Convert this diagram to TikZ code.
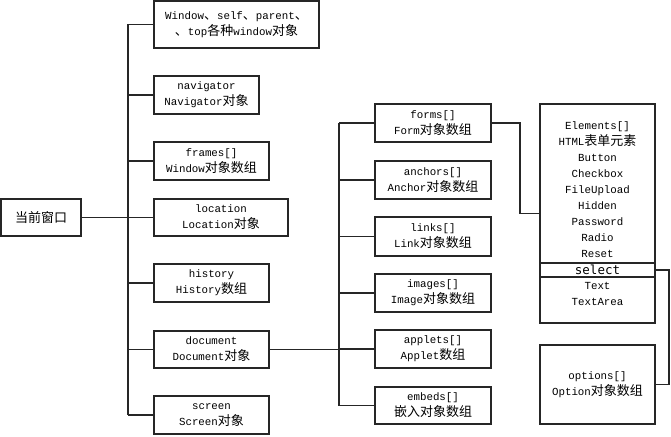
\documentclass[tikz,border=0pt]{standalone}
\usepackage{fontspec}
\setmainfont{Liberation Mono}
\newfontfamily\cjk{Noto Sans CJK SC}
\newfontfamily\selfont{DejaVu Sans Mono}
\newcommand\zh[1]{{\cjk\fontsize{13}{16}\selectfont #1}}
\begin{document}
\begin{tikzpicture}[x=1pt,y=-1pt,
  box/.style={draw=black!85, line width=1.1pt, inner sep=0pt, align=center,
    font=\fontsize{10.8}{16}\selectfont},
  link/.style={draw=black!85, line width=1.1pt}]
\useasboundingbox[fill=white] (0,0) rectangle (671,436);

% first level
\node[box, minimum width=80pt, minimum height=37pt] (cur) at (41,217.5) {\zh{当前窗口}};
\node[box, minimum width=165pt, minimum height=47pt] (w1) at (236.5,24.5)
  {Window\zh{、}self\zh{、}parent\zh{、}\\\zh{、}top\zh{各种}window\zh{对象}};
\node[box, minimum width=105pt, minimum height=38pt] (nav) at (206.5,95) {navigator\\Navigator\zh{对象}};
\node[box, minimum width=115pt, minimum height=38pt] (frames) at (211.5,161) {frames[]\\Window\zh{对象数组}};
\node[box, minimum width=134pt, minimum height=37pt] (loc) at (221,217.5) {location\\Location\zh{对象}};
\node[box, minimum width=115pt, minimum height=38pt] (hist) at (211.5,283) {history\\History\zh{数组}};
\node[box, minimum width=115pt, minimum height=37pt] (doc) at (211.5,349.5) {document\\Document\zh{对象}};
\node[box, minimum width=115pt, minimum height=38pt] (scr) at (211.5,415) {screen\\Screen\zh{对象}};

% second level
\node[box, minimum width=116pt, minimum height=38pt] (forms) at (433,123) {forms[]\\Form\zh{对象数组}};
\node[box, minimum width=116pt, minimum height=38pt] (anchors) at (433,180) {anchors[]\\Anchor\zh{对象数组}};
\node[box, minimum width=116pt, minimum height=39pt] (links) at (433,236.5) {links[]\\Link\zh{对象数组}};
\node[box, minimum width=116pt, minimum height=38pt] (images) at (433,293) {images[]\\Image\zh{对象数组}};
\node[box, minimum width=116pt, minimum height=38pt] (applets) at (433,349) {applets[]\\Applet\zh{数组}};
\node[box, minimum width=116pt, minimum height=37pt] (embeds) at (433,405.5) {embeds[]\\\zh{嵌入对象数组}};

% third level
\node[box, minimum width=115pt, minimum height=219pt] (elem) at (597.5,213.5)
  {Elements[]\\HTML\zh{表单元素}\\Button\\Checkbox\\FileUpload\\Hidden\\Password\\Radio\\Reset\\\mbox{}\\Text\\TextArea};
\node[box, minimum width=115pt, minimum height=14pt, font=\selfont\fontsize{12.5}{14}\selectfont] (sel) at (597.5,270) {select};
\node[box, minimum width=115pt, minimum height=79pt] (opt) at (597.5,384.5) {options[]\\Option\zh{对象数组}};

% trunk 1
\coordinate (ta) at (128,24.5);
\coordinate (tb) at (128,415);
\draw[link] (ta) -- (tb);
\draw[link] (cur.east) -- (cur.east -| ta);
\foreach \n in {w1,nav,frames,loc,hist,doc,scr}
  \draw[link] (\n.west) -- (\n.west -| ta);

% trunk 2
\coordinate (ua) at (339,123);
\coordinate (ub) at (339,405.5);
\draw[link] (ua) -- (ub);
\draw[link] (doc.east) -- (doc.east -| ua);
\foreach \n in {forms,anchors,links,images,applets,embeds}
  \draw[link] (\n.west) -- (\n.west -| ua);

% forms -> elements
\coordinate (fe) at (520,123);
\draw[link] (forms.east) -- (fe) |- (elem.west);

% select -> options
\coordinate (so) at (669,270);
\draw[link] (sel.east) -- (so) |- (opt.east);
\end{tikzpicture}
\end{document}
